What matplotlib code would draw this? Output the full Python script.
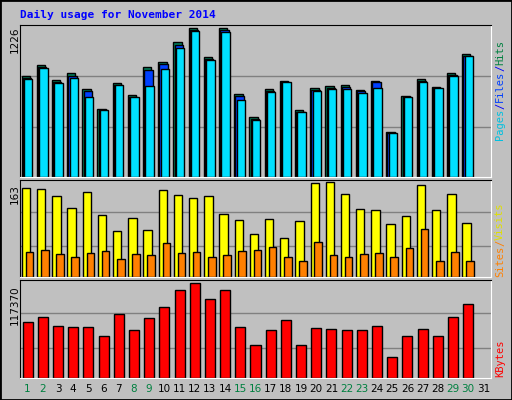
import numpy as np
import matplotlib.pyplot as plt
from matplotlib.patches import Rectangle

days = list(range(1, 32))
hits = [835, 918, 802, 852, 727, 560, 777, 677, 902, 946, 1110, 1226, 985, 1226, 685,
        494, 727, 793, 552, 735, 752, 760, 718, 793, 369, 669, 810, 743, 852, 1010]
files = [818, 902, 785, 835, 710, 552, 760, 660, 879, 927, 1090, 1207, 968, 1207, 669,
         477, 710, 785, 535, 718, 735, 743, 710, 785, 361, 660, 793, 735, 843, 993]
pages = [810, 893, 777, 818, 660, 552, 760, 660, 752, 885, 1060, 1201, 960, 1193, 635,
         469, 702, 785, 535, 710, 727, 727, 694, 735, 361, 660, 785, 735, 835, 993]
visits = [152, 151, 138, 119, 145, 106, 78, 101, 80, 149, 140, 136, 138, 108, 97,
          73, 99, 66, 96, 161, 163, 142, 117, 115, 90, 105, 158, 115, 142, 92]
sites = [43, 46, 39, 35, 41, 44, 30, 39, 37, 58, 41, 43, 35, 37, 44,
         46, 51, 34, 28, 60, 37, 34, 39, 41, 35, 50, 83, 27, 43, 28]
kbytes = [69660, 74820, 64500, 63210, 63210, 51600, 78690, 59340, 73530, 87720, 108360,
          117370, 98040, 108360, 63210, 41280, 59340, 70950, 41280, 61920, 60630, 59340,
          59340, 64500, 25800, 51600, 60630, 51600, 74820, 91590]
weekend = [1, 2, 8, 9, 15, 16, 22, 23, 29, 30]

W, H = 512, 400
fig = plt.figure(figsize=(W / 100, H / 100), dpi=100, facecolor='#c0c0c0')
fig.patches.append(Rectangle((0, 0), 1, 1, transform=fig.transFigure, fill=False,
                             edgecolor='black', linewidth=2))

def panel(top, bottom):
    ax = fig.add_axes([20 / W, 1 - bottom / H, 471 / W, (bottom - top) / H])
    ax.set_facecolor('#c0c0c0')
    ax.set_xlim(0.5, 31.5)
    ax.set_xticks([])
    ax.set_yticks([])
    for s in ax.spines.values():
        s.set_color('black')
    ax.spines['bottom'].set_color('white')
    ax.spines['right'].set_color('white')
    return ax

x = np.array(days[:30])
kw = dict(edgecolor='black', linewidth=1, align='edge')

ax1 = panel(25, 177)
ax1.set_ylim(0, 1226 * 1.02)
for f in (0.335, 0.68):
    ax1.axhline(f * 1226, color='#808080', linewidth=1, zorder=0)
ax1.bar(x - 0.40, hits, width=0.55, color='#00805c', **kw)
ax1.bar(x - 0.32, files, width=0.55, color='#0040ff', **kw)
ax1.bar(x - 0.24, pages, width=0.55, color='#00e0ff', **kw)

ax2 = panel(180, 277)
ax2.set_ylim(0, 163 * 1.02)
for f in (0.326, 0.685):
    ax2.axhline(f * 163, color='#808080', linewidth=1, zorder=0)
ax2.bar(x - 0.38, visits, width=0.55, color='#ffff00', **kw)
ax2.bar(x - 0.12, sites, width=0.5, color='#ff8000', **kw)

ax3 = panel(280, 378)
ax3.set_ylim(0, 117370 * 1.03)
for f in (0.32, 0.68):
    ax3.axhline(f * 117370, color='#808080', linewidth=1, zorder=0)
ax3.bar(x - 0.33, kbytes, width=0.66, color='#ff0000', **kw)

for d in days:
    fig.text((20 + (d - 0.5) * 471 / 31) / W, 1 - 389 / H, str(d), ha='center', va='center',
             fontsize=7.5, family='DejaVu Sans',
             color='#008040' if d in weekend else 'black')

fig.text(20 / W, 1 - 15 / H, 'Daily usage for November 2014', color='#0000ff',
         family='DejaVu Sans Mono', fontweight='bold', fontsize=8, va='center')

for txt, y in (('1226', 40), ('163', 194), ('117370', 305)):
    fig.text(15 / W, 1 - y / H, txt, rotation=90, ha='center', va='center',
             fontsize=7.5, family='DejaVu Sans')

renderer = fig.canvas.get_renderer()

def side(parts, ybottom):
    y = 1 - ybottom / H
    for txt, col in parts:
        t = fig.text(500 / W, y, txt, rotation=90, ha='center', va='bottom',
                     fontsize=7.5, family='DejaVu Sans Mono', color=col)
        ext = t.get_window_extent(renderer)
        y += ext.height / H

side([('Pages', '#00c0e0'), ('/', '#0000ff'), ('Files', '#0040ff'),
      ('/', '#0000ff'), ('Hits', '#008040')], 140)
side([('Sites', '#ff8000'), ('/', '#ff8000'), ('Visits', '#e0e000')], 277)
side([('KBytes', '#ff0000')], 377)

plt.savefig('out.png', dpi=100, facecolor=fig.get_facecolor())
